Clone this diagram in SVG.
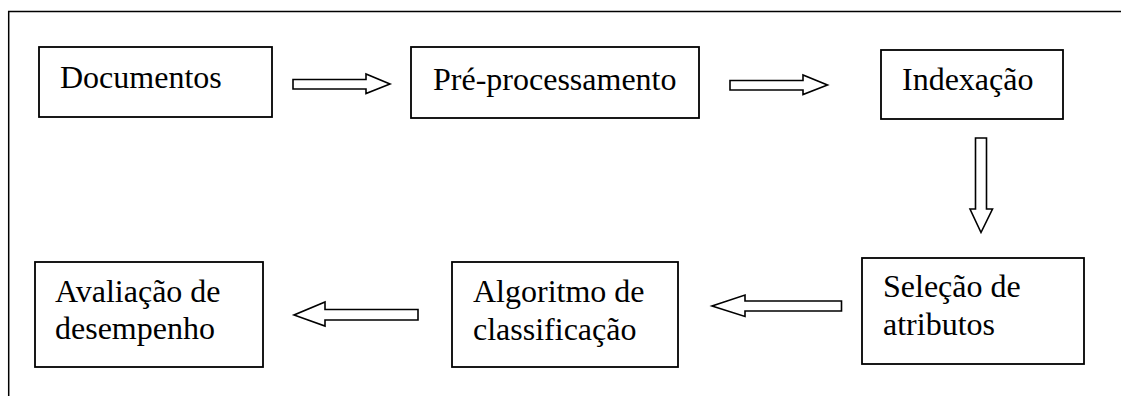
<svg xmlns="http://www.w3.org/2000/svg" width="1121" height="396" viewBox="0 0 1121 396">
<style>
.box{fill:#fff;stroke:#000;stroke-width:1.8}
.frame{fill:none;stroke:#000;stroke-width:1.5}
.arr{fill:#fff;stroke:#000;stroke-width:1.6;stroke-linejoin:miter}
.t{font-family:'Liberation Serif','Times New Roman',Tinos,'DejaVu Serif',serif;font-size:32px;fill:#000}
</style>
<rect width="1121" height="396" fill="#fff"/>
<path class="frame" d="M8.7,396 V11.5 H1121"/>
<g font-family="Liberation Serif, Times New Roman, serif" font-size="32">
<g id="n-documentos"><rect class="box" x="39" y="47" width="233" height="70"/><text class="t" x="60" y="88">Documentos</text></g>
<g id="n-preprocessamento"><rect class="box" x="411" y="47" width="288" height="71"/><text class="t" x="433" y="90">Pré-processamento</text></g>
<g id="n-indexacao"><rect class="box" x="881" y="50" width="182" height="69"/><text class="t" x="902" y="90">Indexação</text></g>
<g id="n-selecao"><rect class="box" x="862" y="258" width="222" height="106"/><text class="t" x="883" y="297">Seleção de</text><text class="t" x="883" y="335">atributos</text></g>
<g id="n-algoritmo"><rect class="box" x="452" y="262" width="226" height="105"/><text class="t" x="473" y="302">Algoritmo de</text><text class="t" x="473" y="340">classificação</text></g>
<g id="n-avaliacao"><rect class="box" x="35" y="262" width="228" height="105"/><text class="t" x="55" y="302">Avaliação de</text><text class="t" x="55" y="339">desempenho</text></g>
</g>
<g id="connectors">
<path class="arr" d="M293,79.5 H366 V74 L390,84 L366,93.5 V89 H293 Z"/>
<path class="arr" d="M730,80.5 H803 V75 L827.5,85 L803,94.5 V90 H730 Z"/>
<path class="arr" d="M975.5,138 H986.5 V209 H992.5 L981,232.5 L970,209 H975.5 Z"/>
<path class="arr" d="M841.5,301 H745 V295 L712,306 L745,316.5 V311 H841.5 Z"/>
<path class="arr" d="M418,309.5 H325 V302 L294,315 L325,326 V320 H418 Z"/>
</g>
</svg>
